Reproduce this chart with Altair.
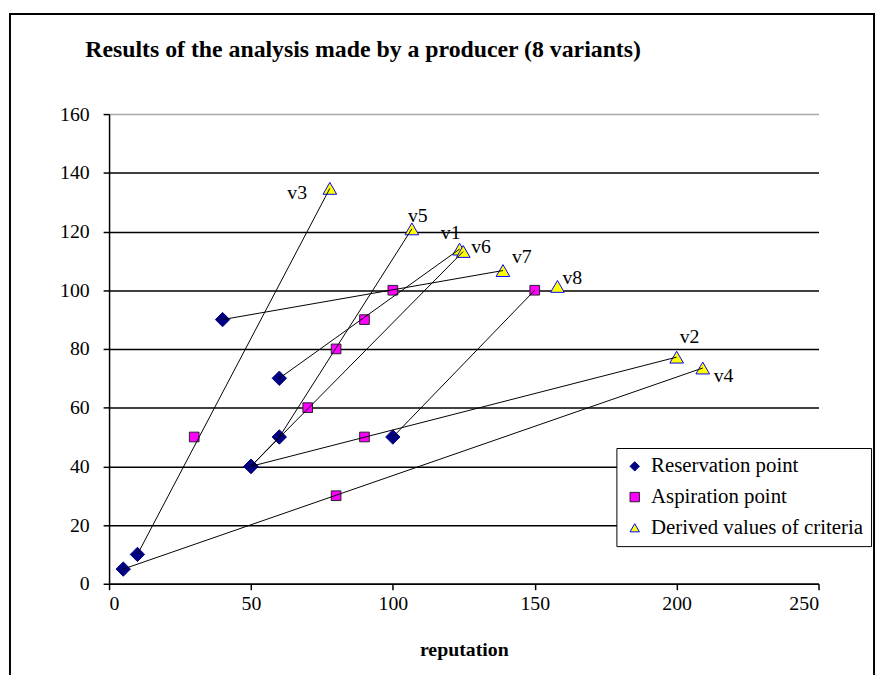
import altair as alt
import pandas as pd

# ---------------- data ----------------
variants = ["v1", "v2", "v3", "v4", "v5", "v6", "v7", "v8"]
res_x = [60, 50, 10, 5, 60, 50, 40, 100]
res_y = [70, 40, 10, 5, 50, 40, 90, 50]
asp_x = [90, 90, 30, 80, 80, 70, 100, 150]
asp_y = [90, 50, 50, 30, 80, 60, 100, 100]
der_x = [123.5, 200.0, 77.8, 209.2, 106.7, 124.8, 138.8, 158.0]
der_y = [114.0, 77.2, 134.7, 73.5, 120.9, 113.2, 106.7, 101.3]

# connecting segments as drawn in the figure
seg_x1 = [60, 50, 10, 5, 50, 60, 50, 40, 100]
seg_y1 = [70, 40, 10, 5, 40, 50, 40, 90, 50]
seg_x2 = [123.5, 200.0, 77.8, 209.2, 60, 106.7, 124.8, 138.8, 150]
seg_y2 = [114.0, 77.2, 134.7, 73.5, 50, 120.9, 113.2, 106.7, 100]

series_names = ["Reservation point", "Aspiration point", "Derived values of criteria"]
x_ticks = [0, 50, 100, 150, 200, 250]
y_ticks = [0, 20, 40, 60, 80, 100, 120, 140, 160]
chart_title = "Results of the analysis made by a producer (8 variants)"
x_title = "reputation"

# ---------------- styling ----------------
FONT = "Liberation Serif"
label_offsets = {
    "v1": (-9, -16), "v2": (13, -20), "v3": (-33, 5), "v4": (21, 8),
    "v5": (6, -13), "v6": (18, -4), "v7": (19, -14), "v8": (15, -8),
}
marker_sizes = [210, 95, 190]

pts = pd.DataFrame({
    "variant": variants * 3,
    "x": res_x + asp_x + der_x,
    "y": res_y + asp_y + der_y,
    "series": [series_names[0]] * 8 + [series_names[1]] * 8 + [series_names[2]] * 8,
})
segs = pd.DataFrame({"x1": seg_x1, "y1": seg_y1, "x2": seg_x2, "y2": seg_y2})
labs = pd.DataFrame({"label": variants, "x": der_x, "y": der_y})

xs = alt.Scale(domain=[0, 250], nice=False)
ys = alt.Scale(domain=[0, 160], nice=False)

x_axis = alt.Axis(values=x_ticks, grid=False, tickSize=6, labelPadding=4,
                  labelFontSize=20, domainWidth=1.5, tickWidth=1.5,
                  title=x_title, titleFontSize=20, titleFontWeight="bold",
                  titlePadding=26)
y_axis = alt.Axis(values=y_ticks, grid=True, tickSize=6, labelPadding=14,
                  labelFontSize=20, domainWidth=1.5, tickWidth=1.5,
                  gridWidth=1.5,
                  gridColor={"condition": {"test": "datum.value === 160", "value": "#aaaaaa"},
                             "value": "black"},
                  title=None)

legend = alt.Legend(orient="none", legendX=512, legendY=337, padding=8,
                    fillColor="white", strokeColor="black",
                    labelFont=FONT, labelFontSize=21, labelColor="black",
                    labelLimit=400,
                    rowPadding=9, symbolSize=90, symbolStrokeWidth=1,
                    labelOffset=6, title=None)

point_layers = []
for name, sz in zip(series_names, marker_sizes):
    point_layers.append(
        alt.Chart(pts).transform_filter(alt.datum.series == name)
        .mark_point(opacity=1, fillOpacity=1, strokeWidth=1, size=sz)
        .encode(
            x=alt.X("x:Q", scale=xs, axis=x_axis),
            y=alt.Y("y:Q", scale=ys, axis=y_axis),
            shape=alt.Shape("series:N", title=None,
                            scale=alt.Scale(domain=series_names,
                                            range=["diamond", "square", "triangle-up"]),
                            legend=legend),
            fill=alt.Fill("series:N", title=None,
                          scale=alt.Scale(domain=series_names,
                                          range=["#000080", "#FF00FF", "#FFFF00"]),
                          legend=legend),
            stroke=alt.Stroke("series:N", title=None,
                              scale=alt.Scale(domain=series_names,
                                              range=["#000080", "#222222", "#0000FF"]),
                              legend=legend),
        )
    )

rules = alt.Chart(segs).mark_rule(color="black", strokeWidth=1).encode(
    x="x1:Q", y="y1:Q", x2="x2:Q", y2="y2:Q"
)

label_layers = []
for v in variants:
    dx, dy = label_offsets[v]
    label_layers.append(
        alt.Chart(labs).transform_filter(alt.datum.label == v)
        .mark_text(font=FONT, fontSize=20, color="black", align="center",
                   baseline="middle", dx=dx, dy=dy)
        .encode(x="x:Q", y="y:Q", text="label:N")
    )

frame = alt.Chart(pd.DataFrame({"a": [0]})).mark_rect(
    fillOpacity=0, stroke="black", strokeWidth=2
).encode(x=alt.value(-100), x2=alt.value(772), y=alt.value(-101), y2=alt.value(640))

title_txt = alt.Chart(pd.DataFrame({"t": [chart_title]})).mark_text(
    font=FONT, fontSize=24, fontWeight="bold", color="black",
    align="left", baseline="alphabetic"
).encode(text="t:N", x=alt.value(-24), y=alt.value(-58))

chart = alt.layer(frame, *point_layers, rules, *label_layers, title_txt).properties(
    width=716, height=474,
    autosize=alt.AutoSizeParams(type="none"),
    padding={"left": 102, "top": 104, "right": 59, "bottom": 89},
    background="white",
).configure_axis(
    labelFont=FONT, titleFont=FONT, labelColor="black", titleColor="black",
    domainColor="black", tickColor="black",
).configure_view(stroke="transparent")

chart.save("out.html", embed_options={"renderer": "svg", "actions": False})
